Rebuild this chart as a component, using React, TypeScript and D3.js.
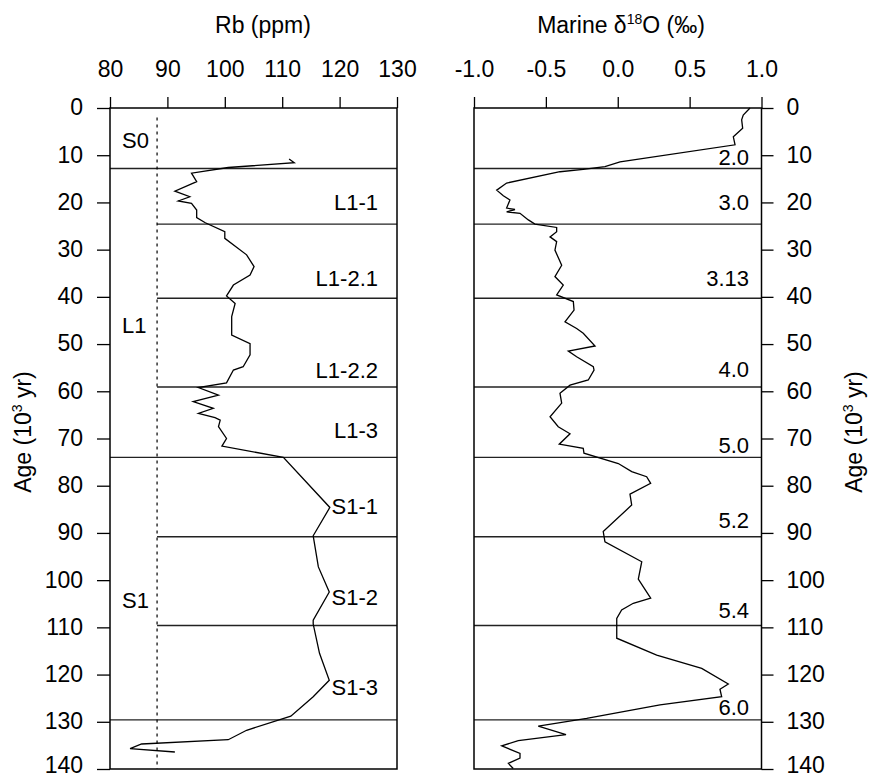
import * as d3 from 'd3';
import React, { useRef, useEffect } from 'react';

const width = 871;
const height = 779;

// Rb profile (age in 10^3 yr, Rb in ppm)
const rbAge = [10.8, 11.6, 12.6, 13.8, 15.6, 17.6, 18.8, 19.7, 20.2, 21.6, 23.2, 24.3, 26.2, 27.6, 31.1, 33.6, 35.4, 37.5, 39.8, 41.4, 44.2, 48.1, 49.9, 52.3, 54.8, 55.5, 58.2, 59.2, 60.8, 62.2, 63.6, 64.7, 65.6, 66.1, 67.5, 70.0, 71.6, 74.0, 84.6, 90.6, 97.2, 102.5, 108.5, 109.3, 115.5, 121.2, 124.7, 128.8, 131.8, 133.8, 134.7, 135.7, 136.4];
const rbPpm = [111.2, 112.1, 100.6, 94.2, 95.1, 91.3, 93.9, 91.9, 94.2, 95.1, 95.1, 96.6, 100.0, 100.0, 103.8, 105.1, 104.4, 101.5, 100.3, 101.8, 101.2, 101.2, 104.4, 104.4, 103.2, 101.5, 100.3, 95.4, 98.9, 94.5, 98.0, 95.4, 98.3, 99.2, 98.9, 100.3, 99.5, 110.2, 118.3, 115.4, 116.3, 118.2, 115.4, 115.4, 116.5, 118.2, 115.4, 111.5, 103.8, 100.6, 85.5, 83.5, 91.3];

// marine d18O record
const o18Age = [0, 1.5, 2.5, 4.3, 6.1, 7.8, 11.4, 12.4, 13.0, 13.5, 15.9, 17.4, 18.6, 19.5, 21.2, 21.5, 22.0, 22.3, 23.7, 24.6, 25.3, 26.2, 27.3, 28.3, 30.1, 33.3, 35.7, 37.5, 39.6, 41.0, 42.8, 45.3, 46.7, 47.7, 50.4, 51.5, 52.7, 54.8, 55.5, 57.6, 58.7, 60.4, 62.5, 65.4, 67.5, 69.0, 71.2, 72.1, 73.1, 75.3, 77.0, 78.1, 79.5, 81.8, 84.1, 89.7, 91.9, 96.1, 99.8, 103.8, 104.9, 106.3, 108.1, 112.3, 115.9, 118.7, 122.0, 123.1, 124.7, 126.4, 129.3, 130.9, 132.7, 134.0, 135.1, 136.7, 137.7, 138.8, 139.9];
const o18Val = [0.92, 0.873, 0.862, 0.869, 0.804, 0.816, 0.016, -0.089, -0.24, -0.402, -0.773, -0.842, -0.796, -0.75, -0.773, -0.715, -0.773, -0.68, -0.622, -0.576, -0.425, -0.425, -0.471, -0.425, -0.437, -0.39, -0.437, -0.379, -0.425, -0.309, -0.304, -0.367, -0.286, -0.24, -0.158, -0.344, -0.286, -0.17, -0.165, -0.205, -0.332, -0.402, -0.39, -0.471, -0.414, -0.332, -0.407, -0.24, -0.235, 0.004, 0.097, 0.201, 0.229, 0.085, 0.097, -0.101, -0.089, 0.167, 0.143, 0.229, 0.108, 0.027, -0.007, -0.007, 0.271, 0.584, 0.769, 0.711, 0.723, 0.294, -0.216, -0.553, -0.36, -0.692, -0.807, -0.68, -0.68, -0.761, -0.727];

// stratigraphic boundaries
const unitBounds = [12.8, 74.0, 129.6];
const subBounds = [24.6, 40.3, 59.1, 90.8, 109.6];
const dashedRb = 88.2;

const unitNames = ['S0', 'L1', 'S1'];
const unitAges = [8.5, 47.7, 105.9];
const subNames = ['L1-1', 'L1-2.1', 'L1-2.2', 'L1-3', 'S1-1', 'S1-2', 'S1-3'];
const subAges = [21.6, 37.7, 57.2, 69.9, 86.0, 105.3, 124.4];
const misNames = ['2.0', '3.0', '3.13', '4.0', '5.0', '5.2', '5.4', '6.0'];
const misAges = [12.1, 21.6, 37.7, 57.0, 73.1, 89.0, 108.0, 128.6];

const ageTicks = [0, 10, 20, 30, 40, 50, 60, 70, 80, 90, 100, 110, 120, 130, 140];
const rbTicks = [80, 90, 100, 110, 120, 130];
const o18Ticks = [-1.0, -0.5, 0.0, 0.5, 1.0];

const font = 'Liberation Sans, Arial, sans-serif';

export default function App() {
    const ref = useRef(null);

    useEffect(() => {
        const svg = d3.select(ref.current);
        svg.selectAll('*').remove();

        const y = d3.scaleLinear().domain([0, 140]).range([108, 769]);
        const xRb = d3.scaleLinear().domain([80, 130]).range([110, 397]);
        const xO = d3.scaleLinear().domain([-1, 1]).range([474, 761.5]);

        const styleAxis = (g) => {
            g.select('.domain').remove();
            g.selectAll('line').attr('stroke', '#000').attr('stroke-width', 1.3);
            g.selectAll('text').attr('font-size', 23).attr('font-family', font).attr('fill', '#000');
        };
        // age labels sit centred on their tick, the last one nudged up to stay on the page
        const ageText = (g) => {
            g.selectAll('.tick text').attr('dy', d => d === 140 ? '0.15em' : '0.3em');
        };

        // top axes
        svg.append('g').attr('transform', 'translate(0,108)')
            .call(d3.axisTop(xRb).tickValues(rbTicks).tickSize(11).tickPadding(20).tickFormat(d3.format('d')))
            .call(styleAxis);
        svg.append('g').attr('transform', 'translate(0,108)')
            .call(d3.axisTop(xO).tickValues(o18Ticks).tickSize(11).tickPadding(20)
                .tickFormat(d => d.toFixed(1)))
            .call(styleAxis);

        // age axes
        svg.append('g').attr('transform', 'translate(110,0)')
            .call(d3.axisLeft(y).tickValues(ageTicks).tickSize(13).tickPadding(14))
            .call(styleAxis).call(ageText);
        svg.append('g').attr('transform', 'translate(761.5,0)')
            .call(d3.axisRight(y).tickValues(ageTicks).tickSize(12).tickPadding(13))
            .call(styleAxis).call(ageText);

        // boundaries, left panel
        svg.selectAll('.ub').data(unitBounds).enter().append('line')
            .attr('x1', xRb(80)).attr('x2', xRb(130))
            .attr('y1', d => y(d)).attr('y2', d => y(d))
            .attr('stroke', '#222').attr('stroke-width', 1.4);
        svg.selectAll('.sb').data(subBounds).enter().append('line')
            .attr('x1', xRb(dashedRb)).attr('x2', xRb(130))
            .attr('y1', d => y(d)).attr('y2', d => y(d))
            .attr('stroke', '#222').attr('stroke-width', 1.4);
        // boundaries, right panel
        svg.selectAll('.ob').data(unitBounds.concat(subBounds)).enter().append('line')
            .attr('x1', xO(-1)).attr('x2', xO(1))
            .attr('y1', d => y(d)).attr('y2', d => y(d))
            .attr('stroke', '#222').attr('stroke-width', 1.4);

        // dashed reference line
        svg.append('line')
            .attr('x1', xRb(dashedRb)).attr('x2', xRb(dashedRb))
            .attr('y1', y(2)).attr('y2', y(140))
            .attr('stroke', '#000').attr('stroke-width', 1.2)
            .attr('stroke-dasharray', '3,4');

        // frames
        svg.append('rect')
            .attr('x', xRb(80)).attr('y', y(0))
            .attr('width', xRb(130) - xRb(80)).attr('height', y(140) - y(0))
            .attr('fill', 'none').attr('stroke', '#000').attr('stroke-width', 1.5);
        svg.append('rect')
            .attr('x', xO(-1)).attr('y', y(0))
            .attr('width', xO(1) - xO(-1)).attr('height', y(140) - y(0))
            .attr('fill', 'none').attr('stroke', '#000').attr('stroke-width', 1.5);

        // curves
        const rbData = rbAge.map((a, i) => ({ age: a, v: rbPpm[i] }));
        const oData = o18Age.map((a, i) => ({ age: a, v: o18Val[i] }));
        svg.append('path').datum(rbData)
            .attr('fill', 'none').attr('stroke', '#000').attr('stroke-width', 1.3)
            .attr('d', d3.line().x(d => xRb(d.v)).y(d => y(d.age)));
        svg.append('path').datum(oData)
            .attr('fill', 'none').attr('stroke', '#000').attr('stroke-width', 1.3)
            .attr('d', d3.line().x(d => xO(d.v)).y(d => y(d.age)));

        // labels
        const lab = (x, yy, t, anchor) => svg.append('text')
            .attr('x', x).attr('y', yy).attr('text-anchor', anchor)
            .attr('font-size', 22).attr('font-family', font).attr('fill', '#000')
            .text(t);
        unitNames.forEach((n, i) => lab(122, y(unitAges[i]), n, 'start'));
        subNames.forEach((n, i) => lab(378, y(subAges[i]), n, 'end'));
        misNames.forEach((n, i) => lab(749, y(misAges[i]), n, 'end'));

        // titles
        svg.append('text').attr('x', 263).attr('y', 33).attr('text-anchor', 'middle')
            .attr('font-size', 23).attr('font-family', font).text('Rb (ppm)');
        const mt = svg.append('text').attr('x', 621).attr('y', 33).attr('text-anchor', 'middle')
            .attr('font-size', 23).attr('font-family', font);
        mt.append('tspan').text('Marine δ');
        mt.append('tspan').attr('font-size', 14).attr('dy', -9).text('18');
        mt.append('tspan').attr('dy', 9).text('O (‰)');

        const ageTitle = (x) => {
            const t = svg.append('text')
                .attr('transform', `translate(${x},432) rotate(-90)`)
                .attr('text-anchor', 'middle')
                .attr('font-size', 23).attr('font-family', font);
            t.append('tspan').text('Age (10');
            t.append('tspan').attr('font-size', 14).attr('dy', -9).text('3');
            t.append('tspan').attr('dy', 9).text(' yr)');
        };
        ageTitle(31);
        ageTitle(862);
    }, []);

    return <svg ref={ref} width={width} height={height}
        style={{ position: 'absolute', left: 0, top: 0, background: '#fff' }} />;
}
